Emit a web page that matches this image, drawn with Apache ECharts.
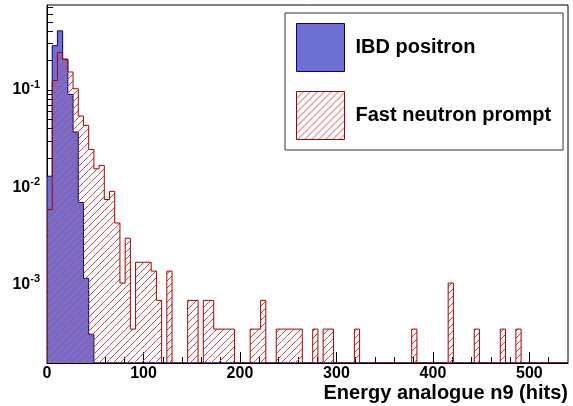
<!DOCTYPE html>
<html>
<head>
<meta charset="utf-8" />
<title></title>
<script src="https://cdn.jsdelivr.net/npm/echarts@6/dist/echarts.min.js"></script>
</head>
<body>
<div id="main" style="width: 573px; height: 406px;"></div>
</body>
<style>
body { padding: 0px; margin: 0px; background: #fff; }
</style>
<script type="text/javascript">
// 100 bins from 0 to 540 hits
var binWidth = 5.4
var nBins = 100
var xMax = 540
var yMin = 1.57e-4
var yMax = 0.746

var seriesNames = ['IBD positron', 'Fast neutron prompt']

// IBD positron, bins 0..8 (all later bins empty)
var ibdPositron = [0.013, 0.285, 0.405, 0.207, 0.090, 0.037, 0.0070, 0.00116, 0.00031]

// fast neutron prompt, bins 0..90
var fastNeutron = [
  0.0059, 0.125, 0.243, 0.207, 0.153, 0.103, 0.054, 0.0433, 0.0245, 0.0155,
  0.0168, 0.0075, 0.0091, 0.0043, 0.00104, 0.0030, 0.00035, 0.0017, 0.0017, 0.0017,
  0.00138, 0.00069, 0, 0.00138, 0, 0, 0, 0.00069, 0.00069, 0,
  0.00069, 0.00069, 0.00035, 0.00035, 0.00035, 0.00035, 0, 0, 0, 0.00035,
  0.00035, 0.00069, 0, 0, 0.00035, 0.00035, 0.00035, 0.00035, 0.00035, 0,
  0, 0.00035, 0, 0.00035, 0.00035, 0, 0, 0, 0, 0.00035,
  0, 0, 0, 0, 0, 0, 0, 0, 0, 0,
  0.00035, 0, 0, 0, 0, 0, 0, 0.00104, 0, 0,
  0, 0, 0.00035, 0, 0, 0, 0, 0.00035, 0, 0,
  0.00035
]

var xTickLabels = [0, 100, 200, 300, 400, 500]
var yTickLabels = [1e-3, 1e-2, 1e-1]

// minor tick positions
var xMinor = []
for (var t = 20; t < xMax; t += 20) { if (t % 100 != 0) xMinor.push(t) }
var yMinor = []
;[1e-4, 1e-3, 1e-2, 1e-1].forEach(function (d) {
  for (var k = 2; k <= 9; k++) { var m = d * k; if (m > yMin && m < yMax) yMinor.push(m) }
})

var blueColor = '#7070d4'
var blueLine = '#00008b'
var redHatch = '#cf4545'
var redLine = '#a80000'
var hatchStep = 7
var font = 'Liberation Sans'

// one [binLow, binHigh, content] row per bin, empty bins sit on the frame bottom
function histRows(vals) {
  var rows = []
  for (var i = 0; i < nBins; i++) {
    var v = i < vals.length ? vals[i] : 0
    rows.push([i * binWidth, (i + 1) * binWidth, v > 0 ? v : yMin])
  }
  return rows
}

// legend swatches
function checkerPattern() {
  var c = document.createElement('canvas')
  c.width = 2; c.height = 2
  var ctx = c.getContext('2d')
  ctx.fillStyle = '#b4b4ec'
  ctx.fillRect(0, 0, 2, 2)
  ctx.fillStyle = '#2a2ab8'
  ctx.fillRect(0, 0, 1, 1)
  ctx.fillRect(1, 1, 1, 1)
  return { image: c, repeat: 'repeat' }
}
function hatchPattern() {
  var c = document.createElement('canvas')
  c.width = hatchStep; c.height = hatchStep
  var ctx = c.getContext('2d')
  ctx.fillStyle = redHatch
  for (var i = 0; i < hatchStep; i++) ctx.fillRect(i, hatchStep - 1 - i, 1, 1)
  return { image: c, repeat: 'repeat' }
}

// whole histogram drawn once: fill, "/" hatch clipped per bin, step outline
function histRenderer(fill, hatch, stroke) {
  return function (params, api) {
    if (params.dataIndex !== 0) return
    var pts = [api.coord([0, yMin])]
    var kids = []
    for (var i = 0; i < nBins; i++) {
      var lo = api.coord([api.value(0, i), api.value(2, i)])
      var hi = api.coord([api.value(1, i), api.value(2, i)])
      pts.push(lo, hi)
      if (!hatch) continue
      var base = api.coord([api.value(1, i), yMin])
      var x0 = lo[0], x1 = hi[0], yt = lo[1], yb = base[1]
      if (yb - yt < 0.5) continue
      for (var c = Math.ceil((x0 + yt) / hatchStep) * hatchStep; c <= x1 + yb; c += hatchStep) {
        var xa = Math.max(x0, c - yb), xb = Math.min(x1, c - yt)
        if (xb > xa) {
          kids.push({ type: 'line', shape: { x1: xa, y1: c - xa, x2: xb, y2: c - xb }, style: { stroke: hatch, lineWidth: 1 } })
        }
      }
    }
    pts.push(api.coord([xMax, yMin]))
    var children = []
    if (fill) children.push({ type: 'polygon', shape: { points: pts }, style: { fill: fill, stroke: null } })
    children = children.concat(kids)
    children.push({ type: 'polyline', shape: { points: pts }, style: { fill: null, stroke: stroke, lineWidth: 1 } })
    return { type: 'group', children: children }
  }
}

var chart = echarts.init(document.getElementById('main'))
chart.setOption({
  animation: false,
  grid: { left: 47, right: 5, top: 5, bottom: 43, show: true, borderColor: '#000', borderWidth: 1 },
  legend: {
    left: 285, top: 13, orient: 'vertical', selectedMode: false,
    itemWidth: 48, itemHeight: 48, itemGap: 19,
    padding: [10, 12, 10, 11],
    backgroundColor: '#fff', borderColor: '#333', borderWidth: 1,
    textStyle: { fontFamily: font, fontWeight: 'bold', fontSize: 20, color: '#000', padding: [0, 0, 0, 6] },
    data: [
      { name: seriesNames[0], icon: 'rect', itemStyle: { color: checkerPattern(), borderColor: blueLine, borderWidth: 1 } },
      { name: seriesNames[1], icon: 'rect', itemStyle: { color: hatchPattern(), borderColor: redLine, borderWidth: 1 } }
    ]
  },
  xAxis: [
    {
      type: 'value', min: 0, max: xMax, interval: 100,
      name: 'Energy analogue n9 (hits)', nameLocation: 'end', nameGap: 0,
      nameTextStyle: { fontFamily: font, fontWeight: 'bold', fontSize: 20, color: '#000', align: 'right', verticalAlign: 'top', padding: [20, 0, 0, 0] },
      axisLine: { lineStyle: { color: '#000' } },
      axisTick: { inside: true, length: 11, customValues: xTickLabels, lineStyle: { color: '#000' } },
      axisLabel: { customValues: xTickLabels, margin: 3, fontFamily: font, fontWeight: 'bold', fontSize: 16, color: '#000' },
      splitLine: { show: false }
    },
    {
      type: 'value', min: 0, max: xMax, position: 'bottom',
      axisLine: { show: false },
      axisTick: { inside: true, length: 6, customValues: xMinor, lineStyle: { color: '#000' } },
      axisLabel: { show: false },
      splitLine: { show: false }
    }
  ],
  yAxis: [
    {
      type: 'log', logBase: 10, min: yMin, max: yMax,
      axisLine: { lineStyle: { color: '#000' } },
      axisTick: { inside: true, length: 11, customValues: yTickLabels, lineStyle: { color: '#000' } },
      axisLabel: {
        customValues: yTickLabels, margin: 7, color: '#000',
        formatter: function (v) { return '{b|10}{s|' + Math.round(Math.log10(v)) + '}' },
        rich: {
          b: { fontFamily: font, fontWeight: 'bold', fontSize: 16, lineHeight: 22 },
          s: { fontFamily: font, fontWeight: 'bold', fontSize: 11, verticalAlign: 'top', lineHeight: 12 }
        }
      },
      splitLine: { show: false }
    },
    {
      type: 'log', logBase: 10, min: yMin, max: yMax, position: 'left',
      axisLine: { show: false },
      axisTick: { inside: true, length: 6, customValues: yMinor, lineStyle: { color: '#000' } },
      axisLabel: { show: false },
      splitLine: { show: false }
    }
  ],
  series: [
    {
      name: seriesNames[0], type: 'custom', clip: true,
      encode: { x: [0, 1], y: 2 },
      data: histRows(ibdPositron),
      itemStyle: { color: blueColor },
      renderItem: histRenderer(blueColor, null, blueLine)
    },
    {
      name: seriesNames[1], type: 'custom', clip: true,
      encode: { x: [0, 1], y: 2 },
      data: histRows(fastNeutron),
      itemStyle: { color: redHatch },
      renderItem: histRenderer(null, redHatch, redLine)
    }
  ]
})
</script>
</html>
